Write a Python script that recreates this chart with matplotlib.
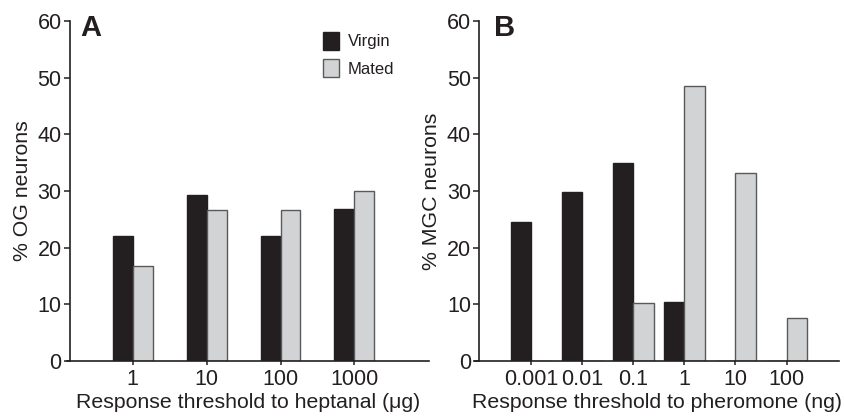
import matplotlib
matplotlib.use("Agg")
import matplotlib.pyplot as plt
import numpy as np
from matplotlib.patches import Patch

plt.rcParams['font.family'] = ['Liberation Sans', 'DejaVu Sans']

# Panel A data
a_categories = ["1", "10", "100", "1000"]
a_virgin = [22.0, 29.3, 22.0, 26.8]
a_mated = [16.7, 26.7, 26.7, 30.0]

# Panel B data
b_categories = ["0.001", "0.01", "0.1", "1", "10", "100"]
b_virgin = [24.5, 29.8, 35.0, 10.5, 0.0, 0.0]
b_mated = [0.0, 0.0, 10.2, 48.6, 33.2, 7.6]

series_names = ["Virgin", "Mated"]

TXT = "#231f20"
DARK = "#231f20"
LIGHT = "#d1d3d4"
LIGHT_EDGE = "#58595b"

W, H = 844, 420
fig = plt.figure(figsize=(W / 100, H / 100), dpi=100)

def px_axes(x0, x1, y_top, y_bot):
    return [x0 / W, 1 - y_bot / H, (x1 - x0) / W, (y_bot - y_top) / H]

def style(ax, spine_x):
    for s in ["top", "right"]:
        ax.spines[s].set_visible(False)
    ax.spines["left"].set_position(("data", spine_x))
    for s in ["left", "bottom"]:
        ax.spines[s].set_linewidth(1.2)
        ax.spines[s].set_color(TXT)
    ax.set_ylim(0, 60)
    ax.set_yticks(range(0, 61, 10))
    ax.tick_params(axis="both", direction="out", length=4, width=1.1,
                   colors=TXT, labelsize=15.5, labelcolor=TXT)
    ax.tick_params(axis="y", pad=2)
    ax.tick_params(axis="x", length=3, pad=3)

# Panel A: spine x=70, axis from 67 to 429; centers at 132.7 + 73.9*i
sa = 73.9
axA = fig.add_axes(px_axes(67, 429, 21, 361))
xa = np.arange(len(a_categories))
wa = 0.27
axA.bar(xa - wa, a_virgin, width=wa, align="edge", color=DARK, edgecolor=DARK, linewidth=1.0)
axA.bar(xa, a_mated, width=wa, align="edge", color=LIGHT, edgecolor=LIGHT_EDGE, linewidth=1.0)
axA.set_xlim((67 - 132.7) / sa, (429 - 132.7) / sa)
style(axA, (70 - 132.7) / sa)
axA.set_xticks(xa)
axA.set_xticklabels(a_categories)
axA.set_xlabel("Response threshold to heptanal (\u03bcg)", fontsize=15.3, color=TXT, labelpad=2)
axA.set_ylabel("% OG neurons", fontsize=15.3, color=TXT, labelpad=4)
axA.text(80 / W, 1 - 28 / H, "A", transform=fig.transFigure, fontsize=21,
         fontweight="bold", color=TXT, va="center", ha="left")
handles = [Patch(facecolor=DARK, edgecolor=DARK), Patch(facecolor=LIGHT, edgecolor=LIGHT_EDGE)]
axA.legend(handles, series_names, loc="upper left",
           bbox_to_anchor=(316 / W, 1 - 25 / H), bbox_transform=fig.transFigure,
           frameon=False, fontsize=12, handlelength=1.0, handleheight=1.3,
           handletextpad=0.5, labelspacing=0.55, borderaxespad=0, labelcolor=TXT)

# Panel B: spine x=479.3, axis from 475 to 838.7; centers at 531 + 51.1*i
sb = 51.1
axB = fig.add_axes(px_axes(475, 838.7, 21, 361))
xb = np.arange(len(b_categories))
wb = 0.40
axB.bar(xb - wb, b_virgin, width=wb, align="edge", color=DARK, edgecolor=DARK, linewidth=1.0)
axB.bar(xb, b_mated, width=wb, align="edge", color=LIGHT, edgecolor=LIGHT_EDGE, linewidth=1.0)
axB.set_xlim((475 - 531) / sb, (838.7 - 531) / sb)
style(axB, (479.3 - 531) / sb)
axB.set_xticks(xb)
axB.set_xticklabels(b_categories)
axB.set_xlabel("Response threshold to pheromone (ng)", fontsize=15.3, color=TXT, labelpad=2)
axB.set_ylabel("% MGC neurons", fontsize=15.3, color=TXT, labelpad=4)
axB.text(494 / W, 1 - 28 / H, "B", transform=fig.transFigure, fontsize=21,
         fontweight="bold", color=TXT, va="center", ha="left")

fig.savefig("out.png", dpi=100)
